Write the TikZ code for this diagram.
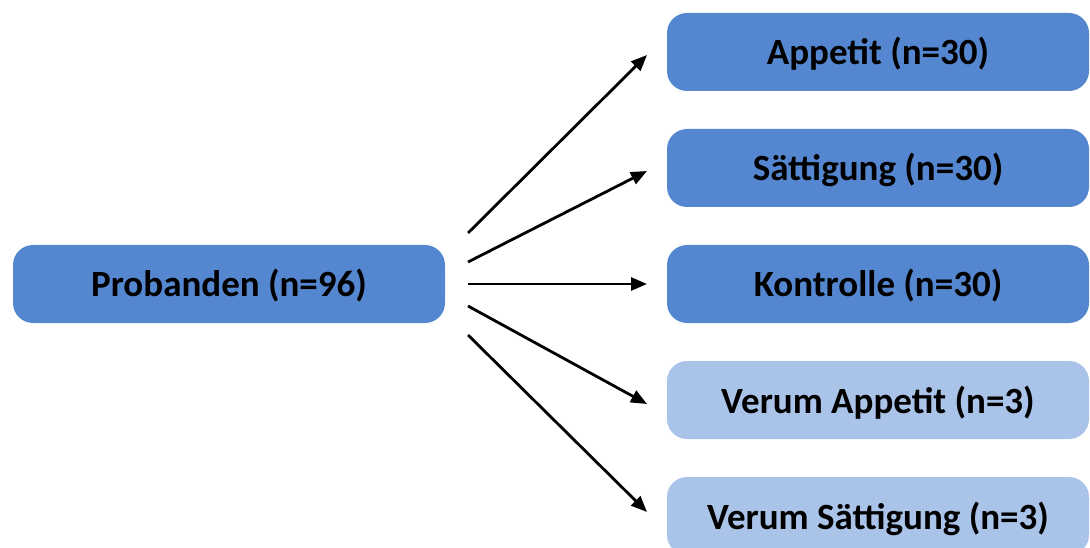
\documentclass[tikz,border=0pt]{standalone}
\usepackage{fontspec}
\setmainfont{Carlito}
\usetikzlibrary{arrows.meta}
\definecolor{dblue}{HTML}{5587D0}
\definecolor{lblue}{HTML}{AAC3E8}
\tikzset{
  box/.style={rounded corners=20pt, minimum height=78pt, inner sep=0pt, text height=30pt, text depth=4pt, font=\bfseries\fontsize{37}{42}\selectfont, text=black},
  dbox/.style={box, fill=dblue},
  lbox/.style={box, fill=lblue},
  arr/.style={line width=2.8pt, -{Triangle[length=16pt,width=13pt]}}
}
\begin{document}
\begin{tikzpicture}[x=1pt,y=-1pt]
\useasboundingbox (0,0) rectangle (1090,548);
\node[dbox, minimum width=432pt] (p) at (229,284) {Probanden (n=96)};
\node[dbox, minimum width=422pt] (a) at (878,52) {Appetit (n=30)};
\node[dbox, minimum width=422pt] (s) at (878,168) {Sättigung (n=30)};
\node[dbox, minimum width=422pt] (k) at (878,284) {Kontrolle (n=30)};
\node[lbox, minimum width=422pt] (va) at (878,400) {Verum Appetit (n=3)};
\node[lbox, minimum width=422pt] (vs) at (878,516) {Verum Sättigung (n=3)};
\coordinate (s1) at (468,233); \coordinate (e1) at (647,55);
\coordinate (s2) at (468,262); \coordinate (e2) at (647,171);
\coordinate (s3) at (468,284); \coordinate (e3) at (647,284);
\coordinate (s4) at (468,306); \coordinate (e4) at (647,404);
\coordinate (s5) at (468,335); \coordinate (e5) at (647,512);
\draw[arr] (s1) -- (e1);
\draw[arr] (s2) -- (e2);
\draw[arr] (s3) -- (e3);
\draw[arr] (s4) -- (e4);
\draw[arr] (s5) -- (e5);
\end{tikzpicture}
\end{document}
